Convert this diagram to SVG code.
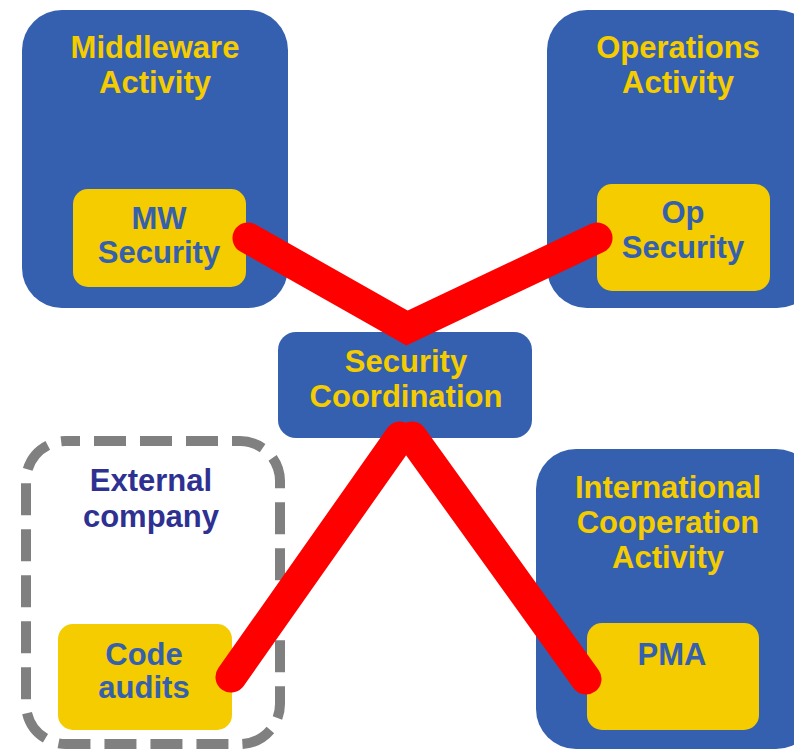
<svg xmlns="http://www.w3.org/2000/svg" width="794" height="752" viewBox="0 0 794 752">
<style>
.act{fill:#3460AF;}
.sub{fill:#F4CC00;}
.t{font-family:"Liberation Sans",Arial,sans-serif;font-weight:bold;font-size:31px;text-anchor:middle;}
.ty{fill:#F4CC00;}
.tb{fill:#3560AE;}
.tn{fill:#2E3192;}
.link{fill:none;stroke:#FF0000;stroke-width:31;stroke-linecap:round;stroke-linejoin:miter;}
</style>
<rect width="794" height="752" fill="#FFFFFF"/>
<g id="middleware">
<rect class="act" x="22" y="10" width="266" height="298" rx="40"/>
<text class="t ty" x="155" y="58">Middleware</text>
<text class="t ty" x="155" y="93">Activity</text>
</g>
<g id="mw-security">
<rect class="sub" x="73" y="189" width="173" height="98" rx="15"/>
<text class="t tb" x="159" y="229">MW</text>
<text class="t tb" x="159" y="263">Security</text>
</g>
<g id="operations">
<rect class="act" x="547" y="10" width="270" height="298" rx="40"/>
<text class="t ty" x="678" y="58">Operations</text>
<text class="t ty" x="678" y="93">Activity</text>
</g>
<g id="op-security">
<rect class="sub" x="597" y="184" width="173" height="107" rx="15"/>
<text class="t tb" x="683" y="223">Op</text>
<text class="t tb" x="683" y="258">Security</text>
</g>
<g id="security-coordination">
<rect class="act" x="278" y="332" width="254" height="106" rx="18"/>
<text class="t ty" x="406" y="372">Security</text>
<text class="t ty" x="406" y="407">Coordination</text>
</g>
<g id="external-company">
<rect x="26" y="441" width="254" height="303" rx="40" fill="none" stroke="#808080" stroke-width="10" stroke-dasharray="32 14" stroke-dashoffset="18"/>
<text class="t tn" x="151" y="491">External</text>
<text class="t tn" x="151" y="527">company</text>
</g>
<g id="code-audits">
<rect class="sub" x="58" y="624" width="174" height="106" rx="15"/>
<text class="t tb" x="144" y="665">Code</text>
<text class="t tb" x="144" y="698">audits</text>
</g>
<g id="international">
<rect class="act" x="536" y="449" width="280" height="300" rx="40"/>
<text class="t ty" x="668" y="498">International</text>
<text class="t ty" x="668" y="533">Cooperation</text>
<text class="t ty" x="668" y="568">Activity</text>
</g>
<g id="pma">
<rect class="sub" x="587" y="623" width="172" height="107" rx="15"/>
<text class="t tb" x="672" y="665">PMA</text>
</g>
<g id="connectors">
<polyline class="link" points="248,238 407,328 597,238"/>
<line class="link" x1="400" y1="437" x2="231" y2="677"/>
<line class="link" x1="412" y1="437" x2="586" y2="679"/>
</g>
</svg>
